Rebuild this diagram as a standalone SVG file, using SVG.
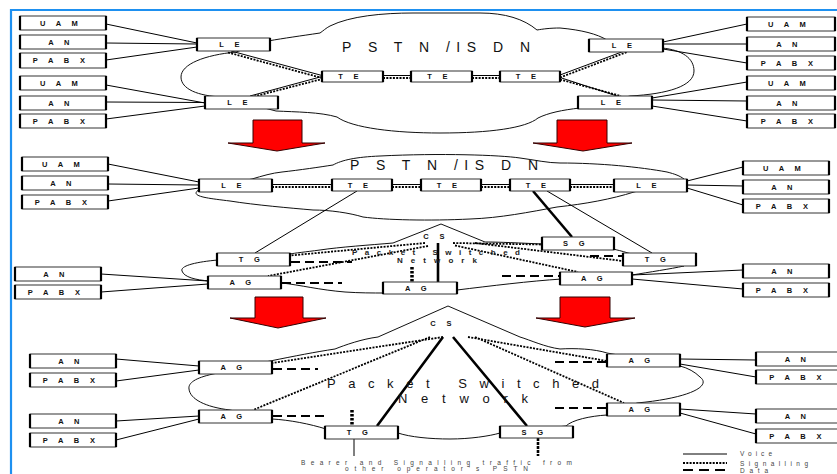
<svg xmlns="http://www.w3.org/2000/svg" width="837" height="474" viewBox="0 0 837 474">
<style>
  .frame{fill:none;stroke:#1e90f0;stroke-width:2.2}
  .cloud{fill:#fff;stroke:#111;stroke-width:1}
  .box{fill:#fff;stroke:#333;stroke-width:1}
  .side{fill:none;stroke:#000;stroke-width:2.2}
  .lbl{font-family:"Liberation Sans",Arial,sans-serif;font-weight:bold;font-size:7.5px;letter-spacing:4.3px;text-anchor:middle;fill:#111}
  .v{fill:none;stroke:#000;stroke-width:1}
  .vt{fill:none;stroke:#000;stroke-width:2.6}
  .s{fill:none;stroke:#000;stroke-width:1.8;stroke-dasharray:2 1.3}
  .st{fill:none;stroke:#000;stroke-width:3.5;stroke-dasharray:2.5 1.5}
  .sg{fill:none;stroke:#000;stroke-width:2.6;stroke-dasharray:3 1}
  .d{fill:none;stroke:#000;stroke-width:2;stroke-dasharray:9 5}
  .dl{fill:none;stroke:#000;stroke-width:2;stroke-dasharray:10 6}
  .arrow{fill:#ff0000;stroke:#300;stroke-width:1}
  .big{font-family:"Liberation Sans",Arial,sans-serif;font-size:14px;fill:#111}
  .psn{font-family:"Liberation Sans",Arial,sans-serif;font-size:13px;fill:#111}
  .mid{font-family:"Liberation Sans",Arial,sans-serif;font-size:8px;font-weight:bold;fill:#222}
  .note{font-family:"Liberation Sans",Arial,sans-serif;font-size:6.5px;fill:#444}
</style>

<!-- outer frame -->
<path class="frame" d="M11,474 V10 H837"/>

<!-- network clouds -->
<g id="clouds">
  <path id="pstn-top" class="cloud" d="M236,52 C205,55 181,64 181,77 C181,89 198,96 222,97 L276,111 C296,112 320,112 337,117 C352,128 395,133 440,133 C490,133 526,128 538,118 C548,113 562,110 580,108 L630,96 C668,94 694,86 694,71 C694,58 682,50 662,48 L607,40 C597,34 582,30 560,28 C550,28 543,29 537,30 C524,19 505,13 480,13 L413,13 C383,13 350,16 330,26 C326,28 323,31 320,33 C300,36 285,38 268,41 Z"/>
  <path id="pstn-mid" class="cloud" d="M252,179 C262,176 272,173 282,172 C300,170 320,167 333,165 C342,160 356,157 380,156 C440,153 500,155 520,158 C535,160 548,163 560,163 C600,163 640,167 667,172 C675,174 680,176 684,179 L634,192 C612,199 585,204 557,207 C530,212 500,218 470,219 C430,221 385,220 363,217 C350,213 330,210 313,210 C290,208 255,205 230,201 C205,198 188,196 200,189 Z"/>
  <path id="psn-mid" class="cloud" d="M218,260 C195,262 180,266 182,271 C184,277 195,280 210,281 L282,283 C300,285 320,290 345,292 C360,293 372,293 385,293 L457,290 C490,286 530,281 562,279 L632,275 C650,272 670,269 684,266 L628,253 C622,251 617,250 613,249 L542,244 C520,243 500,242 485,242 L441,224 L393,243 C370,245 340,247 320,250 C305,252 295,253 290,254 Z"/>
  <path id="psn-bottom" class="cloud" d="M213,374 C195,378 188,383 189,389 C190,399 205,407 230,410 L272,419 C290,420 310,424 326,429 L398,433 C410,437 430,439 450,439 C470,439 490,436 500,433 L566,426 C572,420 590,416 607,415 L637,403 C690,398 712,386 700,377 C695,372 688,368 680,366 L607,353 C595,349 575,348 560,349 C545,347 530,340 520,337 L448,306 L378,337 C362,339 345,345 335,349 C315,352 295,356 270,361 Z"/>
</g>

<!-- connectors -->
<g id="connectors">
  <!-- top: access to LE -->
  <path class="v" d="M106,24 L197,43 M106,43 L197,44 M106,60 L197,47"/>
  <path class="v" d="M106,85 L205,103 M106,102 L205,102.5 M106,119 L205,106"/>
  <path class="v" d="M663,42 L747,24 M663,44 L747,44 M663,49 L747,63"/>
  <path class="v" d="M652,98 L747,82 M652,100 L747,101 M652,106 L747,121"/>
  <!-- top: LE / TE trunks (voice + signalling) -->
  <path class="v" d="M231,51 L322,75.5 M250,96 L322,76.5 M383,75.5 H411 M472,75.5 H500 M560,75 L623,51.5 M560,77.5 L617,96"/>
  <path class="s" d="M228,52.5 L322,78 M254,96.5 L322,79 M383,78 H411 M472,78 H500 M560,77.5 L627,52 M560,79.5 L621,96"/>

  <!-- middle: access to LE -->
  <path class="v" d="M108,164 L199,182 M108,184 L199,185 M108,201 L199,188"/>
  <path class="v" d="M687,181 L743,167 M687,185 L743,186 M687,188 L743,205"/>
  <path class="v" d="M272,184.5 H332 M392,184.5 H421 M481,184.5 H510 M570,184.5 H614"/>
  <path class="s" d="M272,187 H332 M392,187 H421 M481,187 H510 M570,187 H614"/>
  <path class="v" d="M357,191 L255,253 M547,191 L652,253"/>
  <path class="vt" d="M533,191 L572,237"/>
  <!-- middle: packet network -->
  <path class="v" d="M101,274 L208,281 M101,292 L208,284 M632,275 L743,270 M632,279 L743,289"/>
  <path class="s" d="M425,243 L290,255.5 M428,246 L268,276 M453,243 L542,244.5 M475,243 L623,261 M455,245.5 L578,272"/>
  <path class="vt" d="M438,243 V282"/>
  <path class="st" d="M412,267 V282"/>
  <path class="d" d="M291,262 H352 M282,283 H342 M502,276 H560 M590,256 H623"/>

  <!-- bottom: access to AG -->
  <path class="v" d="M116,359 L199,366 M116,381 L199,370 M116,421 L199,416 M116,440 L199,419"/>
  <path class="v" d="M680,359 L756,360 M680,364 L756,377 M680,409 L756,414 M680,413 L756,434"/>
  <!-- bottom: packet network -->
  <path class="s" d="M443,337 L272,363 M430,337 L253,410 M468,337 L607,361 M475,337 L624,403"/>
  <path class="vt" d="M443,337 L377,426 M453,337 L527,426"/>
  <path class="d" d="M273,369 H318 M273,416 H325 M555,362 H607 M555,408 H607"/>
  <path class="st" d="M352,410 V426"/>
  <path class="v" d="M354,439 V456"/>
  <path class="sg" d="M538,438 V456"/>

  <!-- legend lines -->
  <path class="v" d="M683,454 H727"/>
  <path class="s" d="M683,463 H727"/>
  <path class="dl" d="M683,470 H727"/>
</g>

<!-- migration arrows -->
<g id="arrows">
  <path class="arrow" d="M253,120 H302 V143 H325 L277,151 L228,143 H253 Z"/>
  <path class="arrow" d="M557,120 H607 V143 H632 L583,151 L533,143 H557 Z"/>
  <path class="arrow" d="M255,297 H303 V318 H326 L278,328 L230,318 H255 Z"/>
  <path class="arrow" d="M560,297 H610 V318 H635 L585,327 L536,318 H560 Z"/>
</g>

<!-- top stage nodes -->
<g id="uam1"><rect class="box" x="20" y="16" width="86" height="14"/><path class="side" d="M20,16v14M106,16v14"/><text class="lbl" x="61" y="25.7">U A M</text></g>
<g id="an1"><rect class="box" x="20" y="35" width="86" height="14"/><path class="side" d="M20,35v14M106,35v14"/><text class="lbl" x="61" y="44.7">A N</text></g>
<g id="pabx1"><rect class="box" x="20" y="53" width="86" height="15"/><path class="side" d="M20,53v15M106,53v15"/><text class="lbl" x="61" y="63.2">P A B X</text></g>
<g id="uam2"><rect class="box" x="20" y="76" width="86" height="14"/><path class="side" d="M20,76v14M106,76v14"/><text class="lbl" x="61" y="85.7">U A M</text></g>
<g id="an2"><rect class="box" x="20" y="96" width="86" height="14"/><path class="side" d="M20,96v14M106,96v14"/><text class="lbl" x="61" y="105.7">A N</text></g>
<g id="pabx2"><rect class="box" x="20" y="114" width="86" height="14"/><path class="side" d="M20,114v14M106,114v14"/><text class="lbl" x="61" y="123.7">P A B X</text></g>
<g id="le1"><rect class="box" x="197" y="38" width="73" height="13"/><path class="side" d="M197,38v13M270,38v13"/><text class="lbl" x="231.5" y="47.2">L E</text></g>
<g id="le2"><rect class="box" x="205" y="96" width="73" height="13"/><path class="side" d="M205,96v13M278,96v13"/><text class="lbl" x="239.5" y="105.2">L E</text></g>
<g id="te1"><rect class="box" x="322" y="71" width="61" height="11"/><path class="side" d="M322,71v11M383,71v11"/><text class="lbl" x="350.5" y="79.2">T E</text></g>
<g id="te2"><rect class="box" x="411" y="71" width="61" height="11"/><path class="side" d="M411,71v11M472,71v11"/><text class="lbl" x="439.5" y="79.2">T E</text></g>
<g id="te3"><rect class="box" x="500" y="71" width="60" height="11"/><path class="side" d="M500,71v11M560,71v11"/><text class="lbl" x="528" y="79.2">T E</text></g>
<g id="le3"><rect class="box" x="589" y="39" width="74" height="13"/><path class="side" d="M589,39v13M663,39v13"/><text class="lbl" x="624" y="48.2">L E</text></g>
<g id="le4"><rect class="box" x="578" y="96" width="74" height="13"/><path class="side" d="M578,96v13M652,96v13"/><text class="lbl" x="613" y="105.2">L E</text></g>
<g id="uam3"><rect class="box" x="747" y="17" width="88" height="14"/><path class="side" d="M747,17v14M835,17v14"/><text class="lbl" x="789" y="26.7">U A M</text></g>
<g id="an3"><rect class="box" x="747" y="37" width="88" height="14"/><path class="side" d="M747,37v14M835,37v14"/><text class="lbl" x="789" y="46.7">A N</text></g>
<g id="pabx3"><rect class="box" x="747" y="56" width="88" height="14"/><path class="side" d="M747,56v14M835,56v14"/><text class="lbl" x="789" y="65.7">P A B X</text></g>
<g id="uam4"><rect class="box" x="747" y="76" width="88" height="14"/><path class="side" d="M747,76v14M835,76v14"/><text class="lbl" x="789" y="85.7">U A M</text></g>
<g id="an4"><rect class="box" x="747" y="96" width="88" height="14"/><path class="side" d="M747,96v14M835,96v14"/><text class="lbl" x="789" y="105.7">A N</text></g>
<g id="pabx4"><rect class="box" x="747" y="114" width="88" height="14"/><path class="side" d="M747,114v14M835,114v14"/><text class="lbl" x="789" y="123.7">P A B X</text></g>

<!-- middle stage nodes -->
<g id="uam5"><rect class="box" x="22" y="157" width="86" height="14"/><path class="side" d="M22,157v14M108,157v14"/><text class="lbl" x="63" y="166.7">U A M</text></g>
<g id="an5"><rect class="box" x="22" y="176" width="86" height="14"/><path class="side" d="M22,176v14M108,176v14"/><text class="lbl" x="63" y="185.7">A N</text></g>
<g id="pabx5"><rect class="box" x="22" y="195" width="86" height="14"/><path class="side" d="M22,195v14M108,195v14"/><text class="lbl" x="63" y="204.7">P A B X</text></g>
<g id="le5"><rect class="box" x="199" y="179" width="73" height="13"/><path class="side" d="M199,179v13M272,179v13"/><text class="lbl" x="233.5" y="188.2">L E</text></g>
<g id="te4"><rect class="box" x="332" y="179" width="60" height="12"/><path class="side" d="M332,179v12M392,179v12"/><text class="lbl" x="360" y="187.7">T E</text></g>
<g id="te5"><rect class="box" x="421" y="179" width="60" height="12"/><path class="side" d="M421,179v12M481,179v12"/><text class="lbl" x="449" y="187.7">T E</text></g>
<g id="te6"><rect class="box" x="510" y="179" width="60" height="12"/><path class="side" d="M510,179v12M570,179v12"/><text class="lbl" x="538" y="187.7">T E</text></g>
<g id="le6"><rect class="box" x="614" y="179" width="73" height="13"/><path class="side" d="M614,179v13M687,179v13"/><text class="lbl" x="648.5" y="188.2">L E</text></g>
<g id="uam6"><rect class="box" x="743" y="161" width="86" height="14"/><path class="side" d="M743,161v14M829,161v14"/><text class="lbl" x="784" y="170.7">U A M</text></g>
<g id="an6"><rect class="box" x="743" y="180" width="86" height="14"/><path class="side" d="M743,180v14M829,180v14"/><text class="lbl" x="784" y="189.7">A N</text></g>
<g id="pabx6"><rect class="box" x="743" y="199" width="86" height="14"/><path class="side" d="M743,199v14M829,199v14"/><text class="lbl" x="784" y="208.7">P A B X</text></g>
<g id="cs1"><text class="lbl" x="436" y="238.5">C S</text></g>
<g id="tg1"><rect class="box" x="217" y="253" width="73" height="13"/><path class="side" d="M217,253v13M290,253v13"/><text class="lbl" x="251.5" y="262.2">T G</text></g>
<g id="ag1"><rect class="box" x="208" y="276" width="73" height="13"/><path class="side" d="M208,276v13M281,276v13"/><text class="lbl" x="242.5" y="285.2">A G</text></g>
<g id="ag2"><rect class="box" x="383" y="282" width="74" height="12"/><path class="side" d="M383,282v12M457,282v12"/><text class="lbl" x="418" y="290.7">A G</text></g>
<g id="sg1"><rect class="box" x="542" y="237" width="72" height="13"/><path class="side" d="M542,237v13M614,237v13"/><text class="lbl" x="576" y="246.2">S G</text></g>
<g id="tg2"><rect class="box" x="623" y="253" width="73" height="13"/><path class="side" d="M623,253v13M696,253v13"/><text class="lbl" x="657.5" y="262.2">T G</text></g>
<g id="ag3"><rect class="box" x="560" y="272" width="72" height="13"/><path class="side" d="M560,272v13M632,272v13"/><text class="lbl" x="594" y="281.2">A G</text></g>
<g id="an7"><rect class="box" x="15" y="267" width="86" height="14"/><path class="side" d="M15,267v14M101,267v14"/><text class="lbl" x="56" y="276.7">A N</text></g>
<g id="pabx7"><rect class="box" x="15" y="285" width="86" height="14"/><path class="side" d="M15,285v14M101,285v14"/><text class="lbl" x="56" y="294.7">P A B X</text></g>
<g id="an8"><rect class="box" x="743" y="264" width="86" height="14"/><path class="side" d="M743,264v14M829,264v14"/><text class="lbl" x="784" y="273.7">A N</text></g>
<g id="pabx8"><rect class="box" x="743" y="283" width="86" height="14"/><path class="side" d="M743,283v14M829,283v14"/><text class="lbl" x="784" y="292.7">P A B X</text></g>

<!-- bottom stage nodes -->
<g id="cs2"><text class="lbl" x="443" y="325.5">C S</text></g>
<g id="ag4"><rect class="box" x="199" y="361" width="73" height="13"/><path class="side" d="M199,361v13M272,361v13"/><text class="lbl" x="233.5" y="370.2">A G</text></g>
<g id="ag5"><rect class="box" x="199" y="410" width="73" height="13"/><path class="side" d="M199,410v13M272,410v13"/><text class="lbl" x="233.5" y="419.2">A G</text></g>
<g id="tg3"><rect class="box" x="325" y="426" width="73" height="13"/><path class="side" d="M325,426v13M398,426v13"/><text class="lbl" x="359.5" y="435.2">T G</text></g>
<g id="sg2"><rect class="box" x="500" y="426" width="73" height="12"/><path class="side" d="M500,426v12M573,426v12"/><text class="lbl" x="534.5" y="434.7">S G</text></g>
<g id="ag6"><rect class="box" x="607" y="354" width="73" height="13"/><path class="side" d="M607,354v13M680,354v13"/><text class="lbl" x="641.5" y="363.2">A G</text></g>
<g id="ag7"><rect class="box" x="607" y="403" width="73" height="13"/><path class="side" d="M607,403v13M680,403v13"/><text class="lbl" x="641.5" y="412.2">A G</text></g>
<g id="an9"><rect class="box" x="30" y="354" width="86" height="14"/><path class="side" d="M30,354v14M116,354v14"/><text class="lbl" x="71" y="363.7">A N</text></g>
<g id="pabx9"><rect class="box" x="30" y="373" width="86" height="14"/><path class="side" d="M30,373v14M116,373v14"/><text class="lbl" x="71" y="382.7">P A B X</text></g>
<g id="an10"><rect class="box" x="30" y="414" width="86" height="14"/><path class="side" d="M30,414v14M116,414v14"/><text class="lbl" x="71" y="423.7">A N</text></g>
<g id="pabx10"><rect class="box" x="30" y="433" width="86" height="14"/><path class="side" d="M30,433v14M116,433v14"/><text class="lbl" x="71" y="442.7">P A B X</text></g>
<g id="an11"><rect class="box" x="756" y="352" width="87" height="14"/><path class="side" d="M756,352v14"/><text class="lbl" x="797.5" y="361.7">A N</text></g>
<g id="pabx11"><rect class="box" x="756" y="370" width="87" height="14"/><path class="side" d="M756,370v14"/><text class="lbl" x="797.5" y="379.7">P A B X</text></g>
<g id="an12"><rect class="box" x="756" y="409" width="87" height="14"/><path class="side" d="M756,409v14"/><text class="lbl" x="797.5" y="418.7">A N</text></g>
<g id="pabx12"><rect class="box" x="756" y="429" width="87" height="14"/><path class="side" d="M756,429v14"/><text class="lbl" x="797.5" y="438.7">P A B X</text></g>

<!-- network names and notes -->
<g id="labels">
  <text class="big" x="342" y="51.5" textLength="188" lengthAdjust="spacing">P S T N /IS D N</text>
  <text class="big" x="350" y="170" textLength="188" lengthAdjust="spacing">P S T N /IS D N</text>
  <text class="mid" x="352" y="255" textLength="168" lengthAdjust="spacing">Packet Switched</text>
  <text class="mid" x="397" y="263" textLength="80" lengthAdjust="spacing">Network</text>
  <text class="psn" x="327" y="387.5" textLength="272" lengthAdjust="spacing">Packet Switched</text>
  <text class="psn" x="398" y="403" textLength="130" lengthAdjust="spacing">Network</text>
  <text class="note" x="301" y="464.5" textLength="271" lengthAdjust="spacing">Bearer and Signalling traffic from</text>
  <text class="note" x="345" y="470.5" textLength="183" lengthAdjust="spacing">other operator's PSTN</text>
</g>

<!-- legend -->
<g id="legend">
  <text class="note" x="740" y="456" textLength="32" lengthAdjust="spacing">Voice</text>
  <text class="note" x="740" y="465.5" textLength="68" lengthAdjust="spacing">Signalling</text>
  <text class="note" x="740" y="472.5" textLength="28" lengthAdjust="spacing">Data</text>
</g>
</svg>
